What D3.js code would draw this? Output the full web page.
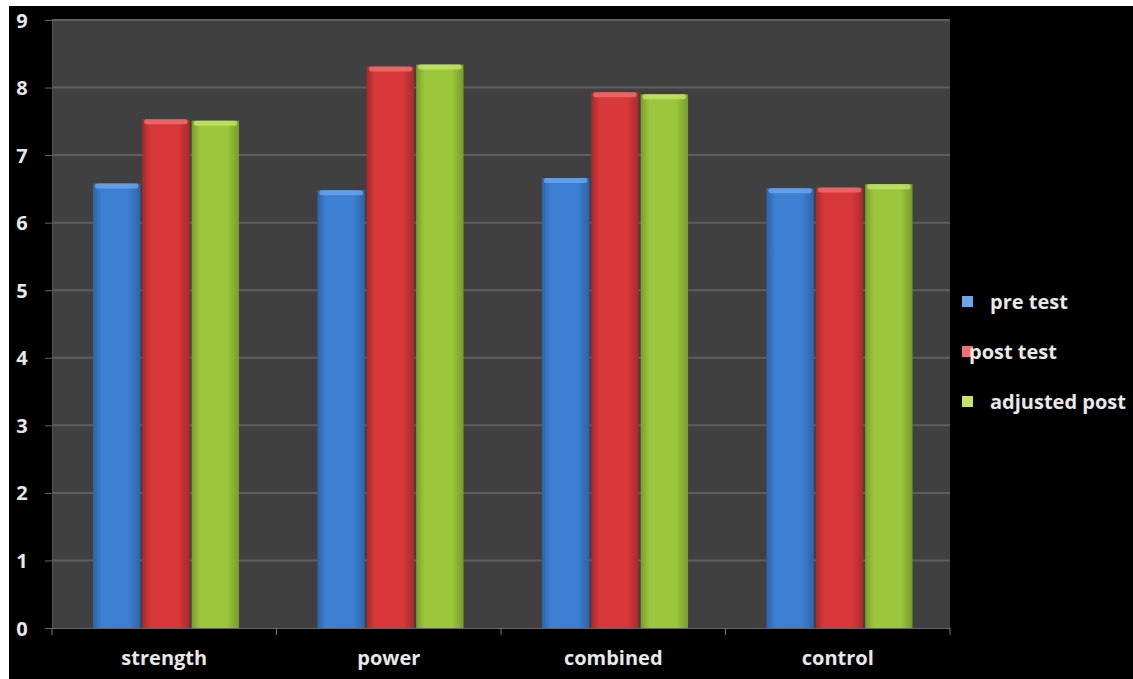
<!DOCTYPE html>
<html>
<head>
<meta charset="utf-8">
<script src="https://cdn.jsdelivr.net/npm/d3@7"></script>
<style>
  html, body { margin: 0; padding: 0; background: #fff; }
  svg { display: block; }
  text { font-family: "Open Sans", Lato, sans-serif; font-weight: bold; fill: #e8e8e8; }
</style>
</head>
<body>
<svg id="chart" width="1133" height="679"></svg>
<script>
const categories = ["strength", "power", "combined", "control"];
const seriesNames = ["pre test", "post test", "adjusted post"];
const preTest = [6.58, 6.48, 6.66, 6.51];
const postTest = [7.53, 8.31, 7.93, 6.52];
const adjustedPost = [7.51, 8.34, 7.90, 6.57];
const yTicks = [0, 1, 2, 3, 4, 5, 6, 7, 8, 9];

const seriesValues = [preTest, postTest, adjustedPost];
const colors = [
  { base: "#3d7fd2", light: "#6ea6ea", dark: "#2e63a8" },
  { base: "#d8383a", light: "#f07070", dark: "#a82a2c" },
  { base: "#9cc63c", light: "#c4e46a", dark: "#789c2a" }
];

const svg = d3.select("#chart");
const W = 1133, H = 679;

// White margin and black chart canvas
svg.append("rect").attr("width", W).attr("height", H).attr("fill", "#fff");
svg.append("rect").attr("x", 9).attr("y", 6).attr("width", W - 9).attr("height", H - 6).attr("fill", "#000");

const plot = { left: 52, right: 950, top: 20, bottom: 628 };

const x0 = d3.scaleBand().domain(categories).range([plot.left, plot.right]).paddingInner(0).paddingOuter(0);
const x1 = d3.scaleBand().domain(d3.range(seriesNames.length)).range([39, 39 + 3 * 50]).padding(0.04);
const y = d3.scaleLinear().domain([0, 9]).range([plot.bottom, plot.top]);

// Plot area
svg.append("rect")
  .attr("x", plot.left).attr("y", plot.top)
  .attr("width", plot.right - plot.left).attr("height", plot.bottom - plot.top)
  .attr("fill", "#404040");

// Gridlines
svg.append("g").selectAll("line").data(yTicks.filter(d => d > 0)).join("line")
  .attr("x1", plot.left).attr("x2", plot.right)
  .attr("y1", d => y(d)).attr("y2", d => y(d))
  .attr("stroke", "#5e5e5e").attr("stroke-width", 2);

// Gradients for bars
const defs = svg.append("defs");
colors.forEach((c, i) => {
  const g = defs.append("linearGradient").attr("id", "grad" + i)
    .attr("x1", "0%").attr("x2", "100%").attr("y1", "0%").attr("y2", "0%");
  g.append("stop").attr("offset", "0%").attr("stop-color", c.dark);
  g.append("stop").attr("offset", "18%").attr("stop-color", c.base);
  g.append("stop").attr("offset", "75%").attr("stop-color", c.base);
  g.append("stop").attr("offset", "100%").attr("stop-color", c.dark);
});

// Bars
const groups = svg.append("g").selectAll("g").data(categories).join("g")
  .attr("transform", d => `translate(${x0(d)},0)`);

groups.each(function (cat, ci) {
  const g = d3.select(this);
  seriesValues.forEach((vals, si) => {
    const v = vals[ci];
    const bx = x1(si), bw = x1.bandwidth();
    g.append("rect")
      .attr("x", bx).attr("y", y(v))
      .attr("width", bw).attr("height", y(0) - y(v))
      .attr("fill", `url(#grad${si})`);
    // lighter top cap
    g.append("rect")
      .attr("x", bx + 2).attr("y", y(v))
      .attr("width", bw - 4).attr("height", 5)
      .attr("rx", 2)
      .attr("fill", colors[si].light)
      .attr("opacity", 0.8);
  });
});

// Y axis
const yAxis = d3.axisLeft(y).tickValues(yTicks).tickSize(7).tickPadding(14);
const yg = svg.append("g").attr("transform", `translate(${plot.left},0)`).call(yAxis);
yg.select(".domain").attr("stroke", "#555");
yg.selectAll(".tick line").attr("stroke", "#666");
yg.selectAll(".tick text").attr("font-size", 20).attr("fill", "#e8e8e8")
  .attr("text-anchor", "middle").attr("x", -30).attr("dy", "0.35em");

// X axis
const xAxis = d3.axisBottom(x0).tickSize(0).tickPadding(23);
const xg = svg.append("g").attr("transform", `translate(0,${plot.bottom})`).call(xAxis);
xg.select(".domain").attr("stroke", "#666");
xg.selectAll(".tick text").attr("font-size", 20).attr("fill", "#e8e8e8");
// category divider ticks
svg.append("g").selectAll("line")
  .data(categories.map(c => x0(c)).concat([plot.right])).join("line")
  .attr("x1", d => d).attr("x2", d => d)
  .attr("y1", plot.bottom).attr("y2", plot.bottom + 7)
  .attr("stroke", "#777");

// Legend
const legendRows = [302, 352, 402];
const legendTextX = [990, 969, 990];
const legend = svg.append("g").selectAll("g").data(seriesNames).join("g");
legend.append("rect")
  .attr("x", 962).attr("y", (d, i) => legendRows[i] - 6)
  .attr("width", 11).attr("height", 11)
  .attr("fill", (d, i) => colors[i].light);
legend.append("text")
  .attr("x", (d, i) => legendTextX[i]).attr("y", (d, i) => legendRows[i])
  .attr("dy", "0.35em").attr("font-size", 20)
  .text(d => d);
</script>
</body>
</html>
